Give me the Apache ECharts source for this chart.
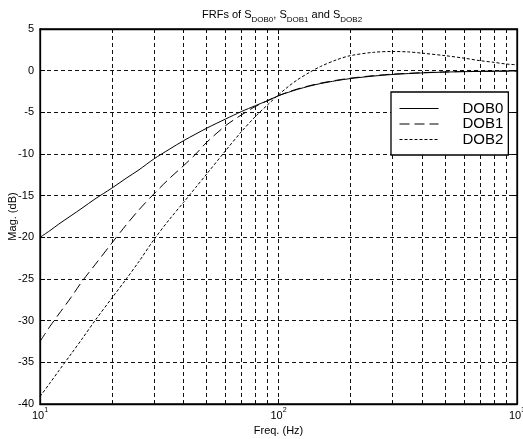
<!DOCTYPE html>
<html>
<head>
<meta charset="utf-8">
<script src="https://cdn.jsdelivr.net/npm/echarts@6/dist/echarts.min.js"></script>
<style>
  html, body { margin: 0; padding: 0; background: #fff; }
  #chart { width: 523px; height: 439px; }
</style>
</head>
<body>
<div id="chart"></div>
<script>
// frequencies (Hz) and magnitudes (dB)
const freqs = [10, 11, 12, 13.5, 15, 17, 20, 23, 26, 30, 35, 40, 45, 50, 60, 70, 80, 90, 100,
  110, 120, 135, 150, 175, 200, 250, 300, 350, 400, 500, 600, 700, 800, 900, 1000];
const dob0 = [-20.0, -19.2, -18.4, -17.4, -16.5, -15.4, -14.1, -12.9, -11.9, -10.6, -9.4, -8.4, -7.6, -6.9,
  -5.8, -4.9, -4.2, -3.6, -3.0, -2.6, -2.25, -1.85, -1.55, -1.2, -0.95, -0.65, -0.46, -0.35, -0.27,
  -0.17, -0.12, -0.09, -0.07, -0.05, -0.04];
const dob1 = [-32.5, -30.7, -29.2, -27.2, -25.3, -23.3, -20.7, -18.5, -16.7, -14.8, -12.9, -11.4, -10.0, -8.6,
  -6.6, -5.3, -4.3, -3.6, -3.0, -2.55, -2.2, -1.8, -1.5, -1.15, -0.9, -0.6, -0.42, -0.32, -0.24,
  -0.15, -0.1, -0.08, -0.06, -0.05, -0.04];
const dob2 = [-39.1, -37.5, -36.0, -34.0, -32.2, -30.0, -27.3, -25.0, -22.9, -20.3, -17.8, -15.8, -14.0, -12.4,
  -9.6, -7.3, -5.5, -4.1, -2.9, -1.9, -1.1, -0.2, 0.5, 1.3, 1.8, 2.2, 2.3, 2.25, 2.1,
  1.8, 1.5, 1.2, 1.0, 0.8, 0.7];
const seriesNames = ['DOB0', 'DOB1', 'DOB2'];

const pair = (ys) => freqs.map((f, i) => [f, ys[i]]);
const font = 'Liberation Sans, Arial, sans-serif';
const gridDash = { color: '#111', width: 1, type: [4, 3] };
const frame = { show: true, onZero: false, lineStyle: { color: '#000', width: 1.3 } };

const chart = echarts.init(document.getElementById('chart'));

const xBase = {
  type: 'log', logBase: 10, min: 10, max: 1000,
  axisLine: frame,
  axisTick: { show: true, inside: true, length: 5, lineStyle: { color: '#000' } },
  minorTick: { show: true, splitNumber: 9, length: 3, lineStyle: { color: '#000' } },
};

chart.setOption({
  animation: false,
  backgroundColor: '#fff',
  textStyle: { fontFamily: font },
  title: {
    text: '{t|FRFs of S}{s|DOB0}{t|, S}{s|DOB1}{t| and S}{s|DOB2}',
    left: 197, top: 3,
    textStyle: {
      fontWeight: 'normal',
      rich: {
        t: { fontSize: 11, fontFamily: font, fontWeight: 'normal', color: '#000', verticalAlign: 'bottom',
          lineHeight: 16, padding: [0, 0, 4, 0] },
        s: { fontSize: 8, fontFamily: font, fontWeight: 'normal', color: '#000', verticalAlign: 'bottom', lineHeight: 10 }
      }
    }
  },
  grid: { left: 40, right: 6, top: 29, bottom: 35, containLabel: false, outerBoundsMode: 'none',
    show: true, borderColor: '#000', borderWidth: 1.3 },
  legend: {
    data: seriesNames,
    orient: 'vertical', left: 391, top: 92,
    itemWidth: 39, itemHeight: 15, itemGap: 0.5,
    padding: [9, 5, 8, 8],
    borderColor: '#000', borderWidth: 1.3, backgroundColor: '#fff',
    itemStyle: { color: 'rgba(0,0,0,0)', borderWidth: 0, opacity: 0 },
    lineStyle: { width: 1, color: '#000' },
    textStyle: { fontSize: 15, fontFamily: font, color: '#000', padding: [0, 0, 0, 19] }
  },
  xAxis: [
    Object.assign({}, xBase, {
      position: 'bottom',
      name: 'Freq. (Hz)', nameLocation: 'middle', nameGap: 21, nameMoveOverlap: false,
      nameTextStyle: { fontSize: 11, color: '#000' },
      splitLine: { show: true, lineStyle: gridDash },
      minorSplitLine: { show: true, lineStyle: gridDash },
      axisLabel: {
        margin: 3,
        formatter: (v) => '{b|10}{p|' + Math.round(Math.log10(v)) + '}',
        rich: {
          b: { fontSize: 11, color: '#000', verticalAlign: 'bottom', lineHeight: 14 },
          p: { fontSize: 7, color: '#000', verticalAlign: 'top', lineHeight: 14 }
        }
      }
    }),
    Object.assign({}, xBase, {
      position: 'top',
      axisLabel: { show: false },
      splitLine: { show: false }
    })
  ],
  yAxis: [
    {
      type: 'value', min: -40, max: 5, interval: 5,
      name: 'Mag. (dB)', nameLocation: 'middle', nameGap: 22, nameMoveOverlap: false,
      nameTextStyle: { fontSize: 11, color: '#000' },
      axisLine: frame,
      axisTick: { show: true, inside: true, length: 5, lineStyle: { color: '#000' } },
      axisLabel: { fontSize: 11, color: '#000', margin: 6 },
      splitLine: { show: true, lineStyle: gridDash }
    },
    {
      type: 'value', min: -40, max: 5, interval: 5, position: 'right',
      axisLine: frame,
      axisTick: { show: true, inside: true, length: 5, lineStyle: { color: '#000' } },
      axisLabel: { show: false },
      splitLine: { show: false }
    }
  ],
  series: [
    { name: seriesNames[0], type: 'line', data: pair(dob0), showSymbol: false, symbol: 'none', smooth: 0.3,
      lineStyle: { color: '#000', width: 1, type: 'solid' }, itemStyle: { color: '#000' }, z: 5 },
    { name: seriesNames[1], type: 'line', data: pair(dob1), showSymbol: false, symbol: 'none', smooth: 0.3,
      lineStyle: { color: '#000', width: 1, type: [10, 5] }, itemStyle: { color: '#000' }, z: 5 },
    { name: seriesNames[2], type: 'line', data: pair(dob2), showSymbol: false, symbol: 'none', smooth: 0.3,
      lineStyle: { color: '#000', width: 1, type: [3, 2] }, itemStyle: { color: '#000' }, z: 5 }
  ]
});
</script>
</body>
</html>
